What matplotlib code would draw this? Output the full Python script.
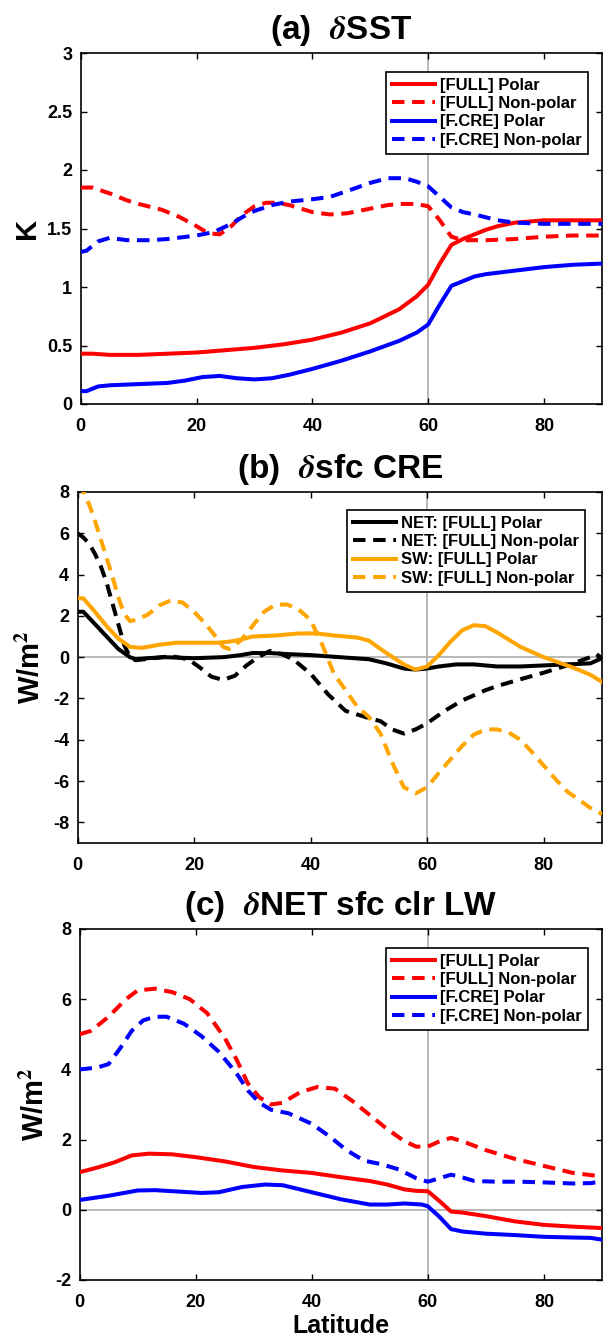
import matplotlib
matplotlib.use("Agg")
import matplotlib.pyplot as plt
from matplotlib.ticker import FormatStrFormatter

plt.rcParams['font.family'] = ['Liberation Sans', 'DejaVu Sans']
plt.rcParams['font.weight'] = 'bold'
plt.rcParams['mathtext.fontset'] = 'stix'
plt.rcParams['axes.unicode_minus'] = False

# (a) dSST [K]
sst_full_polar_lat = [0, 2, 5, 10, 15, 20, 25, 30, 35, 40, 45, 50, 55, 58, 60, 62, 64, 66, 68, 70, 72, 75, 80, 85, 90]
sst_full_polar = [0.43, 0.43, 0.42, 0.42, 0.43, 0.44, 0.46, 0.48, 0.51, 0.55, 0.61, 0.69, 0.81, 0.92, 1.02, 1.2,
                  1.36, 1.41, 1.45, 1.49, 1.52, 1.55, 1.57, 1.57, 1.57]
sst_full_nonpolar_lat = [0, 2, 5, 8, 10, 14, 17, 20, 22, 24, 26, 28, 30, 32, 34, 36, 38, 40, 43, 46, 50, 53, 55,
                         58, 60, 62, 64, 66, 70, 75, 80, 85, 90]
sst_full_nonpolar = [1.85, 1.85, 1.80, 1.74, 1.71, 1.66, 1.60, 1.52, 1.46, 1.45, 1.52, 1.62, 1.69, 1.72, 1.72,
                     1.70, 1.67, 1.64, 1.62, 1.63, 1.67, 1.70, 1.71, 1.71, 1.69, 1.57, 1.43, 1.40, 1.40, 1.41,
                     1.43, 1.44, 1.44]
sst_fcre_polar_lat = [0, 1, 3, 5, 10, 15, 18, 21, 24, 27, 30, 33, 36, 40, 45, 50, 55, 58, 60, 62, 64, 66, 68, 70,
                      75, 80, 85, 90]
sst_fcre_polar = [0.11, 0.11, 0.15, 0.16, 0.17, 0.18, 0.20, 0.23, 0.24, 0.22, 0.21, 0.22, 0.25, 0.30, 0.37, 0.45,
                  0.54, 0.61, 0.68, 0.85, 1.01, 1.05, 1.09, 1.11, 1.14, 1.17, 1.19, 1.20]
sst_fcre_nonpolar_lat = [0, 1, 3, 5, 8, 12, 15, 20, 23, 26, 28, 30, 33, 36, 40, 43, 46, 50, 53, 56, 58, 60, 62,
                         64, 66, 68, 72, 75, 80, 85, 90]
sst_fcre_nonpolar = [1.30, 1.31, 1.39, 1.42, 1.40, 1.40, 1.41, 1.44, 1.47, 1.54, 1.60, 1.65, 1.70, 1.73, 1.75,
                     1.77, 1.82, 1.89, 1.93, 1.93, 1.90, 1.86, 1.77, 1.68, 1.64, 1.62, 1.57, 1.55, 1.54, 1.54, 1.54]

# (b) dsfc CRE [W/m2]
net_polar_lat = [0, 1, 3, 5, 7, 9, 10, 12, 15, 20, 25, 28, 30, 33, 36, 40, 45, 50, 53, 56, 58, 60, 62, 65, 68,
                 72, 76, 80, 84, 88, 90]
net_polar = [2.2, 2.2, 1.6, 1.0, 0.4, 0.0, -0.1, -0.05, 0.0, -0.05, 0.0, 0.1, 0.2, 0.2, 0.15, 0.1, 0.0, -0.1,
             -0.3, -0.55, -0.6, -0.55, -0.45, -0.35, -0.35, -0.45, -0.45, -0.4, -0.35, -0.3, -0.05]
net_nonpolar_lat = [0, 1, 2, 3, 4, 5, 6, 7, 8, 9, 10, 13, 16, 19, 21, 23, 25, 27, 29, 31, 33, 35, 37, 40, 43, 46,
                    50, 52, 54, 56, 58, 60, 63, 66, 70, 72, 75, 80, 84, 88, 89, 90]
net_nonpolar = [6.0, 5.8, 5.5, 5.0, 4.4, 3.6, 2.6, 1.6, 0.6, 0.0, -0.15, -0.05, 0.05, -0.1, -0.5, -0.95, -1.1,
                -0.9, -0.4, 0.0, 0.3, 0.15, -0.1, -0.8, -1.8, -2.6, -2.95, -3.1, -3.5, -3.7, -3.5, -3.2, -2.6,
                -2.1, -1.6, -1.4, -1.15, -0.75, -0.4, 0.0, 0.15, -0.05]
sw_polar_lat = [0, 1, 3, 5, 7, 9, 11, 14, 17, 20, 24, 26, 28, 30, 34, 38, 41, 44, 48, 50, 53, 56, 58, 60, 62, 64,
                66, 68, 70, 72, 74, 76, 78, 80, 82, 85, 88, 90]
sw_polar = [2.85, 2.85, 2.2, 1.5, 0.9, 0.5, 0.45, 0.6, 0.7, 0.7, 0.7, 0.75, 0.85, 1.0, 1.05, 1.15, 1.15, 1.05,
            0.95, 0.8, 0.2, -0.35, -0.6, -0.45, 0.1, 0.75, 1.3, 1.55, 1.5, 1.2, 0.85, 0.5, 0.25, 0.0, -0.2,
            -0.5, -0.85, -1.2]
sw_nonpolar_lat = [0, 1, 2, 3, 4, 5, 6, 7, 8, 9, 10, 12, 14, 16, 18, 20, 22, 24, 25, 26, 28, 30, 32, 34, 36, 38,
                   40, 42, 44, 46, 48, 50, 52, 54, 56, 58, 60, 62, 64, 66, 68, 70, 72, 74, 76, 78, 80, 82, 84,
                   86, 88, 90]
sw_nonpolar = [8.4, 8.0, 7.4, 6.6, 5.7, 4.8, 3.9, 2.9, 2.1, 1.75, 1.8, 2.05, 2.5, 2.75, 2.65, 2.2, 1.6, 0.9, 0.5,
               0.4, 0.8, 1.5, 2.2, 2.55, 2.55, 2.3, 1.8, 0.6, -0.8, -1.6, -2.4, -2.9, -3.7, -5.1, -6.3, -6.6,
               -6.3, -5.6, -4.95, -4.3, -3.75, -3.5, -3.5, -3.65, -4.0, -4.6, -5.25, -5.9, -6.5, -6.9, -7.3,
               -7.6]

# (c) dNET sfc clr LW [W/m2]
lw_full_polar_lat = [0, 3, 6, 9, 12, 16, 20, 25, 30, 35, 40, 45, 50, 53, 56, 58, 60, 62, 64, 66, 70, 75, 80, 85, 90]
lw_full_polar = [1.07, 1.2, 1.35, 1.55, 1.6, 1.58, 1.5, 1.38, 1.22, 1.12, 1.05, 0.93, 0.82, 0.72, 0.58, 0.54,
                 0.53, 0.25, -0.05, -0.08, -0.18, -0.33, -0.43, -0.48, -0.52]
lw_full_nonpolar_lat = [0, 2, 5, 8, 10, 13, 16, 19, 22, 25, 27, 29, 31, 33, 35, 38, 41, 44, 47, 50, 53, 56, 58, 60,
                        62, 64, 66, 70, 75, 80, 85, 90]
lw_full_nonpolar = [5.0, 5.1, 5.5, 6.0, 6.25, 6.3, 6.2, 6.0, 5.6, 4.9, 4.3, 3.6, 3.2, 3.0, 3.05, 3.35, 3.5, 3.45,
                    3.1, 2.7, 2.3, 1.95, 1.8, 1.8, 1.95, 2.05, 1.95, 1.7, 1.45, 1.25, 1.05, 0.95]
lw_fcre_polar_lat = [0, 5, 10, 13, 17, 21, 24, 28, 32, 35, 40, 45, 50, 53, 56, 59, 60, 62, 64, 66, 70, 75, 80, 85,
                     88, 90]
lw_fcre_polar = [0.28, 0.4, 0.55, 0.56, 0.52, 0.48, 0.5, 0.65, 0.72, 0.7, 0.5, 0.3, 0.15, 0.15, 0.18, 0.15, 0.1,
                 -0.2, -0.55, -0.62, -0.68, -0.72, -0.77, -0.79, -0.8, -0.85]
lw_fcre_nonpolar_lat = [0, 3, 5, 7, 9, 11, 13, 15, 18, 21, 24, 27, 29, 31, 33, 36, 40, 43, 46, 49, 52, 55, 58, 60,
                        62, 64, 66, 68, 72, 76, 80, 85, 88, 90]
lw_fcre_nonpolar = [4.0, 4.05, 4.15, 4.6, 5.1, 5.4, 5.5, 5.5, 5.3, 4.95, 4.5, 3.9, 3.4, 3.05, 2.85, 2.75, 2.45,
                    2.1, 1.7, 1.4, 1.3, 1.15, 0.9, 0.8, 0.9, 1.0, 0.92, 0.82, 0.8, 0.8, 0.78, 0.75, 0.76, 0.8]

full_labels = ['[FULL] Polar', '[FULL] Non-polar', '[F.CRE] Polar', '[F.CRE] Non-polar']
cre_labels = ['NET: [FULL] Polar', 'NET: [FULL] Non-polar', 'SW: [FULL] Polar', 'SW: [FULL] Non-polar']
xticks = [0, 20, 40, 60, 80]

ORANGE = '#ffa500'
GREY = '#b3b3b3'
LW = 2.9
DASH = (3.1, 1.9)

W, H = 603, 1340
fig = plt.figure(figsize=(W / 100, H / 100), dpi=100)


def axes_px(left, top, right, bottom):
    return fig.add_axes([left / W, 1 - bottom / H, (right - left) / W, (bottom - top) / H])


def style(ax, ylim, yticks):
    ax.set_xlim(0, 90)
    ax.set_ylim(*ylim)
    ax.set_xticks(xticks)
    ax.set_yticks(yticks)
    ax.tick_params(direction='in', length=4, width=1, top=True, right=True, labelsize=13)
    ax.tick_params(axis='x', pad=10)
    ax.tick_params(axis='y', pad=6)
    for sp in ax.spines.values():
        sp.set_linewidth(1.2)
    ax.axvline(60, color=GREY, lw=1.3, zorder=1)


def legend(ax, anchor):
    leg = ax.legend(loc='upper right', bbox_to_anchor=anchor, borderaxespad=0, fancybox=False,
                    edgecolor='black', framealpha=1, prop={'weight': 'bold', 'size': 12},
                    handlelength=2.6, handletextpad=0.3, labelspacing=0.2, borderpad=0.35)
    leg.get_frame().set_linewidth(1.2)


def line(ax, x, y, color, dashed=False, label=None):
    l, = ax.plot(x, y, color=color, lw=LW, label=label, zorder=3)
    if dashed:
        l.set_dashes(DASH)


# panel a
ax = axes_px(80.7, 53, 602, 404)
style(ax, (0, 3), [0, 0.5, 1, 1.5, 2, 2.5, 3])
ax.yaxis.set_major_formatter(FormatStrFormatter('%g'))
line(ax, sst_full_polar_lat, sst_full_polar, 'red', label=full_labels[0])
line(ax, sst_full_nonpolar_lat, sst_full_nonpolar, 'red', True, full_labels[1])
line(ax, sst_fcre_polar_lat, sst_fcre_polar, 'blue', label=full_labels[2])
line(ax, sst_fcre_nonpolar_lat, sst_fcre_nonpolar, 'blue', True, full_labels[3])
ax.set_title(r'(a)  $\delta$SST', fontsize=24, fontweight='bold', pad=10)
ax.set_ylabel('K', fontsize=21, fontweight='bold')
ax.yaxis.set_label_coords(-0.077, 0.5)
legend(ax, (0.973, 0.946))

# panel b
ax = axes_px(77.5, 492, 602, 843)
style(ax, (-9, 8), list(range(-8, 9, 2)))
ax.axhline(0, color=GREY, lw=1.3, zorder=1)
line(ax, net_polar_lat, net_polar, 'black', label=cre_labels[0])
line(ax, net_nonpolar_lat, net_nonpolar, 'black', True, cre_labels[1])
line(ax, sw_polar_lat, sw_polar, ORANGE, label=cre_labels[2])
line(ax, sw_nonpolar_lat, sw_nonpolar, ORANGE, True, cre_labels[3])
ax.set_title(r'(b)  $\delta$sfc CRE', fontsize=24, fontweight='bold', pad=10)
ax.set_ylabel(r'W/m$^\mathbf{2}$', fontsize=21, fontweight='bold')
ax.yaxis.set_label_coords(-0.060, 0.5)
legend(ax, (0.968, 0.949))

# panel c
ax = axes_px(79.5, 929, 602, 1280)
style(ax, (-2, 8), list(range(-2, 9, 2)))
ax.axhline(0, color=GREY, lw=1.3, zorder=1)
line(ax, lw_full_polar_lat, lw_full_polar, 'red', label=full_labels[0])
line(ax, lw_full_nonpolar_lat, lw_full_nonpolar, 'red', True, full_labels[1])
line(ax, lw_fcre_polar_lat, lw_fcre_polar, 'blue', label=full_labels[2])
line(ax, lw_fcre_nonpolar_lat, lw_fcre_nonpolar, 'blue', True, full_labels[3])
ax.set_title(r'(c)  $\delta$NET sfc clr LW', fontsize=24, fontweight='bold', pad=10)
ax.set_ylabel(r'W/m$^\mathbf{2}$', fontsize=21, fontweight='bold')
ax.yaxis.set_label_coords(-0.056, 0.5)
ax.set_xlabel('Latitude', fontsize=18, fontweight='bold', labelpad=2)
legend(ax, (0.973, 0.946))

fig.savefig('out.png', dpi=100)
